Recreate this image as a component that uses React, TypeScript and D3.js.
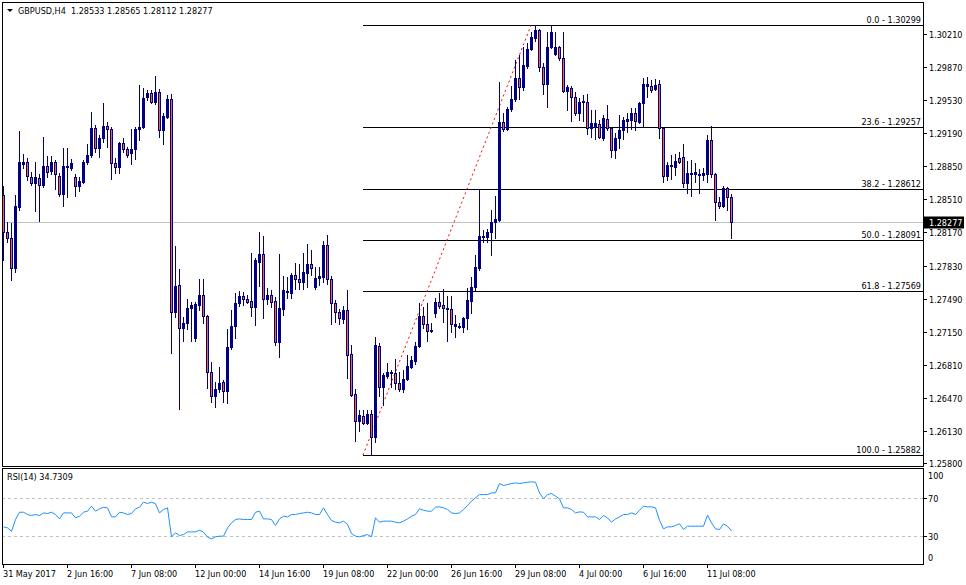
import React from "react";
import * as d3 from "d3";

const symbol = "GBPUSD,H4";

const opens = [1.28553,1.28173,1.28111,1.27803,1.28430,1.28871,1.28892,1.28738,1.28676,1.28728,
1.28656,1.28851,1.28800,1.28892,1.28748,1.28563,1.28841,1.28830,1.28738,1.28645,
1.28687,1.28892,1.28964,1.29241,1.29036,1.29139,1.29262,1.29231,1.28882,1.28841,
1.29087,1.29026,1.28984,1.29026,1.29231,1.29252,1.29560,1.29601,1.29508,1.29611,
1.29221,1.29354,1.29539,1.27351,1.27629,1.27187,1.27238,1.27392,1.27084,1.27423,
1.27526,1.27310,1.26735,1.26488,1.26560,1.26632,1.26540,1.26992,1.27207,1.27444,
1.27516,1.27485,1.27464,1.27403,1.27865,1.27947,1.27485,1.27526,1.27464,1.27043,
1.27382,1.27562,1.27546,1.27731,1.27690,1.27659,1.27752,1.27844,1.27608,1.27700,
1.27711,1.28039,1.27690,1.27444,1.27351,1.27279,1.27372,1.26920,1.26509,1.26232,
1.26283,1.26211,1.26303,1.26067,1.27002,1.26581,1.26694,1.26725,1.26725,1.26622,
1.26560,1.26663,1.26786,1.26848,1.27002,1.27310,1.27228,1.27161,1.27341,1.27454,
1.27423,1.27382,1.27382,1.27207,1.27202,1.27197,1.27290,1.27464,1.27608,1.27803,
1.28122,1.28122,1.28173,1.28276,1.28296,1.29303,1.29231,1.29436,1.29539,1.29755,
1.29662,1.29878,1.30053,1.30166,1.30248,1.29868,1.29693,1.30073,1.30001,1.30073,
1.29960,1.29621,1.29652,1.29560,1.29395,1.29508,1.29508,1.29241,1.29252,1.29282,
1.29139,1.29334,1.29241,1.29015,1.29139,1.29221,1.29313,1.29323,1.29395,1.29303,
1.29498,1.29673,1.29673,1.29642,1.29693,1.29241,1.28748,1.28851,1.28841,1.28933,
1.28943,1.28676,1.28769,1.28769,1.28758,1.28758,1.28769,1.29118,1.28769,1.28481,
1.28440,1.28625,1.28533];

const highs = [1.28645,1.28276,1.28265,1.28553,1.29210,1.28974,1.28933,1.28789,1.28892,1.28769,
1.29149,1.28954,1.28954,1.28913,1.28779,1.29036,1.29036,1.28923,1.28769,1.28738,
1.28913,1.29077,1.29406,1.29272,1.29169,1.29498,1.29303,1.29252,1.28933,1.29097,
1.29139,1.29046,1.29231,1.29252,1.29683,1.29652,1.29632,1.29632,1.29775,1.29642,
1.29395,1.29580,1.29590,1.28029,1.27793,1.27300,1.27485,1.27454,1.27454,1.27690,
1.27690,1.27320,1.26838,1.26632,1.26786,1.26653,1.27177,1.27372,1.27546,1.27567,
1.27557,1.27526,1.27957,1.27906,1.28173,1.28132,1.27598,1.27577,1.27505,1.27947,
1.27721,1.27709,1.27752,1.27855,1.27844,1.27957,1.28050,1.27988,1.27813,1.27813,
1.28080,1.28142,1.27721,1.27474,1.27382,1.27413,1.27577,1.27012,1.26560,1.26345,
1.26345,1.26345,1.26345,1.27094,1.27033,1.26725,1.26827,1.26755,1.26868,1.26735,
1.26755,1.26909,1.26899,1.27043,1.27444,1.27403,1.27444,1.27238,1.27495,1.27546,
1.27587,1.27516,1.27516,1.27320,1.27238,1.27300,1.27598,1.27711,1.27937,1.28615,
1.28193,1.28204,1.28399,1.28543,1.29714,1.29395,1.29457,1.29673,1.29940,1.29991,
1.30073,1.30114,1.30227,1.30299,1.30258,1.29909,1.30227,1.30290,1.30227,1.30084,
1.30227,1.29683,1.29673,1.29611,1.29549,1.29580,1.29590,1.29426,1.29426,1.29323,
1.29375,1.29477,1.29252,1.29190,1.29375,1.29354,1.29395,1.29447,1.29447,1.29508,
1.29755,1.29765,1.29734,1.29745,1.29734,1.29252,1.28892,1.28964,1.28974,1.28995,
1.29077,1.28902,1.28913,1.28882,1.28820,1.28830,1.29169,1.29262,1.28779,1.28532,
1.28645,1.28635,1.28565];

const lows = [1.27885,1.28070,1.27680,1.27762,1.28399,1.28830,1.28707,1.28656,1.28389,1.28286,
1.28635,1.28738,1.28769,1.28615,1.28543,1.28440,1.28532,1.28810,1.28543,1.28594,
1.28676,1.28871,1.28943,1.28995,1.28943,1.29097,1.29046,1.28717,1.28779,1.28779,
1.28995,1.28943,1.28871,1.28923,1.29118,1.29241,1.29529,1.29498,1.29488,1.29149,
1.29077,1.29344,1.26930,1.27300,1.26355,1.27053,1.27177,1.27053,1.27053,1.27372,
1.27238,1.26571,1.26427,1.26375,1.26529,1.26427,1.26416,1.26971,1.27084,1.27413,
1.27423,1.27444,1.27310,1.27218,1.27618,1.27290,1.27433,1.27403,1.27012,1.26889,
1.27320,1.27495,1.27495,1.27587,1.27587,1.27587,1.27608,1.27731,1.27587,1.27629,
1.27659,1.27639,1.27228,1.27248,1.27228,1.27238,1.26673,1.26488,1.26026,1.26129,
1.26201,1.26201,1.25882,1.26016,1.26488,1.26396,1.26673,1.26581,1.26560,1.26540,
1.26529,1.26653,1.26776,1.26817,1.26992,1.27187,1.27053,1.27146,1.27300,1.27392,
1.27248,1.27053,1.27146,1.27094,1.27187,1.27146,1.27177,1.27341,1.27577,1.27783,
1.28070,1.28070,1.27937,1.28111,1.28286,1.29210,1.29221,1.29416,1.29519,1.29539,
1.29632,1.29858,1.30042,1.30135,1.29827,1.29590,1.29457,1.30063,1.29991,1.29940,
1.29611,1.29426,1.29313,1.29375,1.29323,1.29313,1.29180,1.29149,1.29128,1.29139,
1.29118,1.29221,1.28943,1.28933,1.29036,1.29128,1.29200,1.29231,1.29221,1.29300,
1.29252,1.29560,1.29611,1.29632,1.29139,1.28687,1.28707,1.28717,1.28758,1.28882,
1.28635,1.28574,1.28543,1.28687,1.28574,1.28707,1.28687,1.28738,1.28296,1.28419,
1.28430,1.28399,1.28112];

const closes = [1.28173,1.28111,1.27803,1.28440,1.28892,1.28892,1.28748,1.28676,1.28738,1.28656,
1.28851,1.28789,1.28892,1.28769,1.28563,1.28851,1.28851,1.28882,1.28645,1.28697,
1.28892,1.28964,1.29241,1.29036,1.29139,1.29262,1.29231,1.28882,1.28841,1.29087,
1.29026,1.28964,1.29026,1.29231,1.29252,1.29549,1.29601,1.29508,1.29611,1.29221,
1.29364,1.29539,1.27351,1.27618,1.27187,1.27238,1.27392,1.27423,1.27433,1.27526,
1.27310,1.26735,1.26488,1.26560,1.26622,1.26540,1.26992,1.27207,1.27444,1.27516,
1.27485,1.27454,1.27403,1.27885,1.27947,1.27485,1.27526,1.27454,1.27043,1.27392,
1.27577,1.27572,1.27731,1.27690,1.27659,1.27762,1.27844,1.27803,1.27700,1.27721,
1.28039,1.27690,1.27444,1.27351,1.27290,1.27372,1.26909,1.26499,1.26232,1.26293,
1.26211,1.26303,1.26067,1.27012,1.26581,1.26704,1.26735,1.26735,1.26622,1.26560,
1.26663,1.26796,1.26858,1.27002,1.27310,1.27228,1.27156,1.27171,1.27454,1.27413,
1.27392,1.27392,1.27228,1.27228,1.27212,1.27290,1.27474,1.27608,1.27813,1.28132,
1.28132,1.28173,1.28276,1.28306,1.29303,1.29231,1.29436,1.29539,1.29755,1.29662,
1.29888,1.30053,1.30176,1.30248,1.29868,1.29693,1.30073,1.30227,1.30073,1.29960,
1.29621,1.29662,1.29560,1.29395,1.29508,1.29519,1.29241,1.29293,1.29293,1.29150,
1.29344,1.29241,1.29015,1.29139,1.29221,1.29323,1.29334,1.29395,1.29313,1.29498,
1.29693,1.29693,1.29632,1.29683,1.29241,1.28748,1.28861,1.28861,1.28902,1.28892,
1.28676,1.28779,1.28779,1.28789,1.28769,1.28779,1.29118,1.28769,1.28481,1.28440,
1.28625,1.28532,1.28277];

const rsiValues = [39.1,38.0,34.5,46.8,54.5,54.5,52.1,51.0,52.1,51.0,
53.8,53.1,54.5,52.1,47.5,53.8,53.8,53.8,48.6,50.3,
54.5,55.6,60.9,55.6,58.1,59.8,59.1,49.6,49.6,54.5,
53.8,52.1,53.1,58.1,59.8,65.1,63.7,65.1,63.3,53.8,
57.4,59.1,28.6,32.8,30.0,31.0,33.8,33.8,33.8,35.6,
33.5,28.2,26.5,28.6,29.3,29.3,38.0,43.3,46.8,47.5,
46.8,46.8,46.8,54.5,55.6,47.5,47.5,46.8,40.5,47.5,
50.3,49.6,52.1,52.1,53.1,53.8,54.5,53.8,52.1,52.1,
59.1,52.1,45.8,44.0,43.3,45.1,41.6,32.1,29.3,28.6,
30.0,31.0,28.6,48.6,44.0,45.1,45.1,45.1,44.0,43.3,
45.1,47.5,50.3,52.1,58.1,56.6,55.6,55.6,59.8,60.2,
59.1,57.4,53.8,53.1,53.8,57.4,61.6,66.1,69.6,73.1,
73.1,73.1,74.9,74.9,84.7,82.6,83.7,84.7,85.4,84.7,
85.4,86.1,86.5,86.1,74.9,68.6,73.1,74.2,71.4,68.6,
59.1,59.1,57.4,53.8,54.9,54.5,49.6,49.6,49.6,46.8,
51.0,48.6,44.0,47.5,49.6,52.1,52.1,53.8,52.1,56.6,
60.9,60.2,60.2,59.1,46.1,37.0,39.1,39.1,40.5,42.3,
36.3,39.8,39.8,39.8,39.8,39.8,51.4,43.3,37.0,36.3,
42.3,39.8,34.7309];

const rsiPeriod = 14;
const priceTicks = [1.30210,1.29870,1.29530,1.29190,1.28850,1.28510,1.28170,1.27830,1.27490,1.27150,1.26810,1.26470,1.26130,1.25800];
const rsiTicks = [100, 70, 30, 0];
const rsiLevels = [70, 30];
const timeLabelBars = [0,16,32,48,64,80,96,112,128,144,160,176];
const timeLabels = ["31 May 2017","2 Jun 16:00","7 Jun 08:00","12 Jun 00:00","14 Jun 16:00","19 Jun 08:00","22 Jun 00:00","26 Jun 16:00","29 Jun 08:00","4 Jul 00:00","6 Jul 16:00","11 Jul 08:00"];
const fibLevels = [0, 23.6, 38.2, 50, 61.8, 100];
const fibHigh = 1.30299;
const fibLow = 1.25882;
const fibBarLow = 90;
const fibBarHigh = 132;

const FONT = "Tahoma, 'DejaVu Sans Condensed', Roboto, sans-serif";
const NAVY = "#000080";
const BEAR = "#F0643C";

export default function App() {
  const n = opens.length;
  const L = 2, R = 923, T = 2, MB = 466, RT = 468, RB = 564;
  const x = d3.scaleLinear().domain([0, n - 1]).range([3, 3 + 4 * (n - 1)]);
  const y = d3.scaleLinear().domain([1.258, 1.3021]).range([463, 34]);
  const yr = d3.scaleLinear().domain([0, 100]).range([564, 469]);
  const last = n - 1;
  const lastClose = closes[last];
  const cy = Math.round(y(lastClose)) + 0.5;

  const rsiLine = d3.line<number>().x((_, i) => x(i) + 0.5).y((v) => yr(v))(rsiValues) || "";

  const header = `${symbol}  ${opens[last].toFixed(5)} ${highs[last].toFixed(5)} ${lows[last].toFixed(5)} ${closes[last].toFixed(5)}`;

  return (
    <svg width={966} height={585} style={{ position: "absolute", left: 0, top: 0, background: "#fff" }} fontFamily={FONT}>
      <rect x={0} y={0} width={966} height={585} fill="#fff" />
      {/* current price line */}
      <line x1={L} x2={R} y1={cy} y2={cy} stroke="#C0C0C0" strokeWidth={1} />
      {/* fib levels */}
      {fibLevels.map((lv) => {
        const p = fibHigh - (fibHigh - fibLow) * lv / 100;
        const yy = Math.round(y(p)) + 0.5;
        return (
          <g key={"f" + lv}>
            <line x1={x(fibBarLow)} x2={R} y1={yy} y2={yy} stroke="#000" strokeWidth={1} />
            <text x={R - 2} y={yy - 2.5} textAnchor="end" fontSize={9} fill="#000">{`${lv.toFixed(1)} - ${p.toFixed(5)}`}</text>
          </g>
        );
      })}
      {/* fib trend line */}
      <line x1={x(fibBarLow)} y1={y(fibLow)} x2={x(fibBarHigh)} y2={y(fibHigh)} stroke="#FF0000" strokeWidth={1} strokeDasharray="2 3" />
      {/* candles */}
      {opens.map((o, i) => {
        const c = closes[i];
        const bull = c >= o;
        const cx = x(i);
        const top = Math.round(y(Math.max(o, c)));
        const bot = Math.round(y(Math.min(o, c)));
        const hy = Math.round(y(highs[i]));
        const ly = Math.round(y(lows[i]));
        return (
          <g key={"c" + i}>
            <line x1={cx + 0.5} x2={cx + 0.5} y1={hy} y2={ly + 1} stroke={NAVY} strokeWidth={1} />
            <rect x={cx - 0.5} y={top + 0.5} width={2} height={Math.max(bot - top, 1)} fill={bull ? NAVY : BEAR} stroke={NAVY} strokeWidth={1} />
          </g>
        );
      })}
      {/* RSI levels */}
      {rsiLevels.map((lv) => (
        <line key={"rl" + lv} x1={L} x2={R} y1={Math.round(yr(lv)) + 0.5} y2={Math.round(yr(lv)) + 0.5} stroke="#C0C0C0" strokeWidth={1} strokeDasharray="3 3" />
      ))}
      <path d={rsiLine} fill="none" stroke="#1E90FF" strokeWidth={1} />
      {/* panel borders */}
      <rect x={L + 0.5} y={T + 0.5} width={R - L} height={MB - T} fill="none" stroke="#000" strokeWidth={1} />
      <rect x={L + 0.5} y={RT + 0.5} width={R - L} height={RB - RT} fill="none" stroke="#000" strokeWidth={1} />
      {/* price axis */}
      {priceTicks.map((p) => {
        const yy = Math.round(y(p)) + 0.5;
        return (
          <g key={"pt" + p}>
            <line x1={R + 1} x2={R + 4} y1={yy} y2={yy} stroke="#000" />
            <text x={R + 6} y={yy} dy="0.35em" fontSize={9} fill="#000">{p.toFixed(5)}</text>
          </g>
        );
      })}
      <rect x={R + 1} y={cy - 6} width={40} height={12} fill="#000" />
      <text x={R + 6} y={cy} dy="0.35em" fontSize={9} fill="#fff">{lastClose.toFixed(5)}</text>
      {/* RSI axis */}
      {rsiTicks.map((v) => {
        const yy = Math.round(yr(v)) + 0.5;
        const ty = v === 100 ? yy + 6 : v === 0 ? yy - 7 : yy;
        return (
          <g key={"rt" + v}>
            {v !== 100 && v !== 0 && <line x1={R + 1} x2={R + 4} y1={yy} y2={yy} stroke="#000" />}
            <text x={R + 5} y={ty} dy="0.35em" fontSize={9} fill="#000">{v}</text>
          </g>
        );
      })}
      {/* time axis */}
      {timeLabelBars.map((b, k) => (
        <g key={"tl" + b}>
          <line x1={x(b) + 0.5} x2={x(b) + 0.5} y1={RB + 1} y2={RB + 4} stroke="#000" />
          <text x={x(b)} y={577} fontSize={9} fill="#000">{timeLabels[k]}</text>
        </g>
      ))}
      {/* header */}
      <path d="M7,9 L13,9 L10,12 Z" fill="#000" />
      <text x={18} y={14} fontSize={9} fill="#000" style={{ whiteSpace: "pre" }}>{header}</text>
      <text x={7} y={480} fontSize={9} fill="#000">{`RSI(${rsiPeriod}) ${rsiValues[last].toFixed(4)}`}</text>
    </svg>
  );
}
